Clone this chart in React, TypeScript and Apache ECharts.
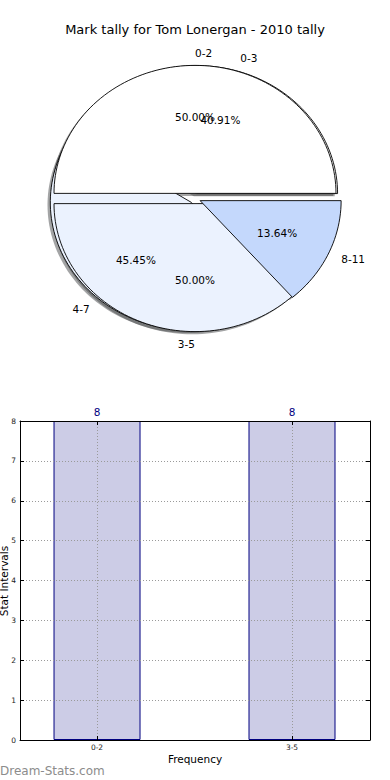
import React, { useEffect, useRef } from 'react';
import * as echarts from 'echarts';

const chartTitle = 'Mark tally for Tom Lonergan - 2010 tally';
const watermark = 'Dream-Stats.com';

// Pie A and Pie B (two pies drawn on top of each other)
const pieACategories = ['0-2', '3-5'];
const pieAValues = [8, 8];
const pieBCategories = ['0-3', '4-7', '8-11'];
const pieBValues = [9, 10, 3];
const pieColors = ['#ffffff', '#ebf2fe', '#c4d8fc'];

// Bar chart
const barCategories = ['0-2', '3-5'];
const barValues = [8, 8];
const xAxisName = 'Frequency';
const yAxisName = 'Stat Intervals';

const FONT = 'DejaVu Sans';

// pie layout (pixels)
const CX = 195;
const CY = 198.5;
const RX = 141;
const RY = 128;
const EXPLODE = 0.04;
const LABEL_DIST = 1.1;
const PCT_DIST = 0.6;
const SHADOW_DX = -2.8;
const SHADOW_DY = 2.6;

type Wedge = {
  name: string;
  pct: string;
  t1: number;
  t2: number;
  mid: number;
  color: string;
};

function buildPie(cats: string[], vals: number[]): Wedge[] {
  const total = vals.reduce((a, b) => a + b, 0);
  let t = 0;
  return vals.map((v, i) => {
    const t1 = t;
    const t2 = t + (360 * v) / total;
    t = t2;
    return {
      name: cats[i],
      pct: ((100 * v) / total).toFixed(2) + '%',
      t1,
      t2,
      mid: (((t1 + t2) / 2) * Math.PI) / 180,
      color: pieColors[i % pieColors.length],
    };
  });
}

const pieA = buildPie(pieACategories, pieAValues);
const pieB = buildPie(pieBCategories, pieBValues);
// stacking order as in the picture
const drawn: Wedge[] = [pieB[0], pieB[1], pieA[0], pieA[1], pieB[2]];
const labelled: Wedge[] = [...pieA, ...pieB];

function wedgeCenter(w: Wedge) {
  return [CX + EXPLODE * RX * Math.cos(w.mid), CY - EXPLODE * RY * Math.sin(w.mid)];
}

function wedgePoints(w: Wedge, dx: number, dy: number) {
  const [wx, wy] = wedgeCenter(w);
  const pts: number[][] = [[wx + dx, wy + dy]];
  const n = Math.max(8, Math.ceil((w.t2 - w.t1) / 2));
  for (let k = 0; k <= n; k++) {
    const th = ((w.t1 + ((w.t2 - w.t1) * k) / n) * Math.PI) / 180;
    pts.push([wx + dx + RX * Math.cos(th), wy + dy - RY * Math.sin(th)]);
  }
  return pts;
}

function shadeColor(c: string) {
  const r = parseInt(c.slice(1, 3), 16);
  const g = parseInt(c.slice(3, 5), 16);
  const b = parseInt(c.slice(5, 7), 16);
  return `rgba(${Math.round(r * 0.3)},${Math.round(g * 0.3)},${Math.round(b * 0.3)},0.5)`;
}

const barPositions = barCategories.map((_, i) => i);
const X_MIN = -0.395;
const X_MAX = 1.4;

const gridLine = { show: true, lineStyle: { color: '#9a9a9a', type: [1, 2], width: 1 } };

const option: any = {
  animation: false,
  backgroundColor: '#ffffff',
  textStyle: { fontFamily: FONT },
  title: {
    text: chartTitle,
    left: 'center',
    top: 23,
    padding: 0,
    textStyle: { fontSize: 13, fontWeight: 'normal', color: '#000', fontFamily: FONT },
  },
  graphic: [
    {
      type: 'text',
      x: 0,
      y: 770.6,
      style: {
        text: watermark,
        fill: '#8c8c8c',
        fontSize: 12,
        fontFamily: FONT,
        align: 'left',
        verticalAlign: 'middle',
      },
    },
    {
      type: 'text',
      x: 3.8,
      y: 581,
      rotation: Math.PI / 2,
      style: {
        text: yAxisName,
        fill: '#000',
        fontSize: 10.5,
        fontFamily: FONT,
        align: 'center',
        verticalAlign: 'middle',
      },
    },
  ],
  grid: [{ left: 20, top: 421, width: 350, height: 319, containLabel: false, outerBoundsMode: 'none' }],
  xAxis: [
    {
      type: 'value',
      gridIndex: 0,
      min: X_MIN,
      max: X_MAX,
      position: 'bottom',
      name: xAxisName,
      nameLocation: 'middle',
      nameGap: 13,
      nameTextStyle: { fontSize: 10.5, color: '#000', fontFamily: FONT },
      axisLine: { show: true, onZero: false, lineStyle: { color: '#000', width: 1 } },
      axisTick: { show: true, inside: true, length: 4, customValues: barPositions, lineStyle: { color: '#000' } },
      axisLabel: {
        customValues: barPositions,
        formatter: (v: number) => barCategories[Math.round(v)] ?? '',
        fontSize: 7.5,
        color: '#222',
        margin: 3,
        fontFamily: FONT,
      },
      splitLine: gridLine,
      z: 5,
    },
    {
      type: 'value',
      gridIndex: 0,
      min: X_MIN,
      max: X_MAX,
      position: 'top',
      axisLine: { show: true, onZero: false, lineStyle: { color: '#000', width: 1 } },
      axisTick: { show: true, inside: true, length: 4, customValues: barPositions, lineStyle: { color: '#000' } },
      axisLabel: { show: false },
      splitLine: { show: false },
      z: 5,
    },
  ],
  yAxis: [
    {
      type: 'value',
      gridIndex: 0,
      min: 0,
      max: 8,
      interval: 1,
      position: 'left',
      axisLine: { show: true, onZero: false, lineStyle: { color: '#000', width: 1 } },
      axisTick: { show: true, inside: true, length: 4, lineStyle: { color: '#000' } },
      axisLabel: { fontSize: 7.5, color: '#222', margin: 4, fontFamily: FONT },
      splitLine: gridLine,
      z: 5,
    },
    {
      type: 'value',
      gridIndex: 0,
      min: 0,
      max: 8,
      interval: 1,
      position: 'right',
      axisLine: { show: true, onZero: false, lineStyle: { color: '#000', width: 1 } },
      axisTick: { show: true, inside: true, length: 4, lineStyle: { color: '#000' } },
      axisLabel: { show: false },
      splitLine: { show: false },
      z: 5,
    },
  ],
  series: [
    {
      type: 'bar',
      xAxisIndex: 0,
      yAxisIndex: 0,
      data: barValues.map((v, i) => [barPositions[i], v]),
      barWidth: 87,
      itemStyle: { color: 'rgba(0,0,128,0.2)', borderColor: '#000080', borderWidth: 1 },
      label: { show: true, position: 'top', distance: 3.5, color: '#000080', fontSize: 10.5, fontFamily: FONT },
      z: 2,
    },
    {
      type: 'custom',
      coordinateSystem: 'none',
      silent: true,
      z: 1,
      data: drawn.map((_, i) => [i]),
      renderItem: (params: any) => {
        const w = drawn[params.dataIndex];
        return {
          type: 'polygon',
          shape: { points: wedgePoints(w, SHADOW_DX, SHADOW_DY) },
          style: { fill: shadeColor(w.color), stroke: null },
        };
      },
    },
    {
      type: 'custom',
      coordinateSystem: 'none',
      silent: true,
      z: 2,
      data: drawn.map((_, i) => [i]),
      renderItem: (params: any) => {
        const w = drawn[params.dataIndex];
        return {
          type: 'polygon',
          shape: { points: wedgePoints(w, 0, 0) },
          style: { fill: w.color, stroke: '#000', lineWidth: 0.9, lineJoin: 'miter' },
        };
      },
    },
    {
      type: 'custom',
      coordinateSystem: 'none',
      silent: true,
      z: 3,
      data: labelled.map((_, i) => [i]),
      renderItem: (params: any) => {
        const w = labelled[params.dataIndex];
        const c = Math.cos(w.mid);
        const s = Math.sin(w.mid);
        const lx = CX + (EXPLODE + LABEL_DIST) * RX * c;
        const ly = CY - (EXPLODE + LABEL_DIST) * RY * s;
        const px = CX + (EXPLODE + PCT_DIST) * RX * c;
        const py = CY - (EXPLODE + PCT_DIST) * RY * s;
        const base = { fill: '#000', fontSize: 10.5, fontFamily: FONT, verticalAlign: 'middle' };
        return {
          type: 'group',
          children: [
            { type: 'text', x: lx, y: ly, style: { ...base, text: w.name, align: c > 0 ? 'left' : 'right' } },
            { type: 'text', x: px, y: py, style: { ...base, text: w.pct, align: 'center' } },
          ],
        };
      },
    },
  ],
};

export default function App() {
  const ref = useRef<HTMLDivElement>(null);
  useEffect(() => {
    document.body.style.margin = '0';
    const chart = echarts.init(ref.current as HTMLDivElement, undefined, { renderer: 'svg' });
    chart.setOption(option);
    return () => chart.dispose();
  }, []);
  return <div ref={ref} style={{ width: 390, height: 780 }} />;
}
